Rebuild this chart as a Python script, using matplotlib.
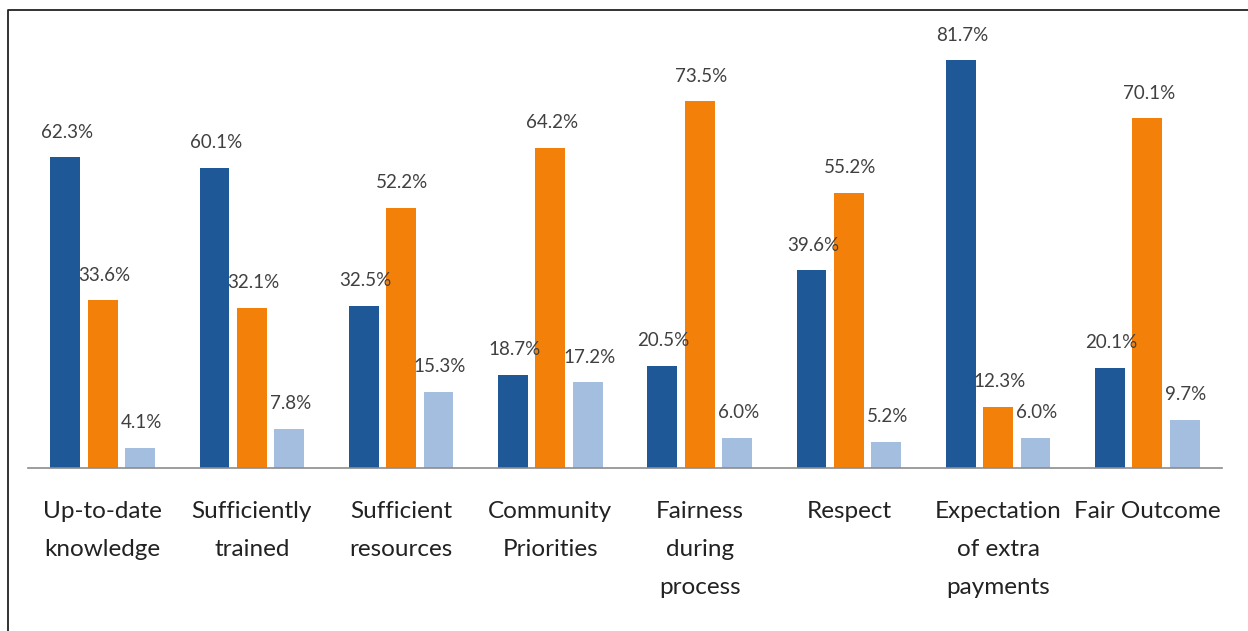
import matplotlib.pyplot as plt
import numpy as np
from matplotlib.lines import Line2D

plt.rcParams['font.family'] = ['Lato', 'DejaVu Sans']

categories = ["Up-to-date\nknowledge", "Sufficiently\ntrained", "Sufficient\nresources",
              "Community\nPriorities", "Fairness\nduring\nprocess", "Respect",
              "Expectation\nof extra\npayments", "Fair Outcome"]
series_a = [62.3, 60.1, 32.5, 18.7, 20.5, 39.6, 81.7, 20.1]
series_b = [33.6, 32.1, 52.2, 64.2, 73.5, 55.2, 12.3, 70.1]
series_c = [4.1, 7.8, 15.3, 17.2, 6.0, 5.2, 6.0, 9.7]

colors = ["#1F5897", "#F28009", "#A3BEDF"]

fig = plt.figure(figsize=(12.48, 6.31), dpi=100)
ax = fig.add_axes([28 / 1248, 163 / 631, 1194 / 1248, 458 / 631])

x = np.arange(len(categories))
width = 0.2
for i, vals in enumerate([series_a, series_b, series_c]):
    pos = x + (i - 1) * 0.25
    ax.bar(pos, vals, width=width, color=colors[i])
    for px, v in zip(pos, vals):
        ax.annotate(f"{v:.1f}%", (px, v), xytext=(1, 12), textcoords="offset points",
                    ha="center", va="bottom", fontsize=13.5, color="#404040")

ax.set_xlim(-0.5, len(categories) - 0.5)
ax.set_ylim(0, 91.8)
ax.set_yticks([])
ax.set_xticks(x)
ax.set_xticklabels(categories, fontsize=17.5, color="#222222", linespacing=2.0)
ax.tick_params(axis="x", length=0, pad=24)
for s in ["top", "right", "left"]:
    ax.spines[s].set_visible(False)
ax.spines["bottom"].set_color("#8C8C8C")
ax.spines["bottom"].set_linewidth(1.2)

# frame along the top and left edges
fx = 7.5 / 1248
fy = 1 - 10 / 631
fig.add_artist(Line2D([fx, fx, 1.0], [0.0, fy, fy], color="#222222", linewidth=1.3,
                      transform=fig.transFigure))

fig.savefig("out.png", dpi=100)
